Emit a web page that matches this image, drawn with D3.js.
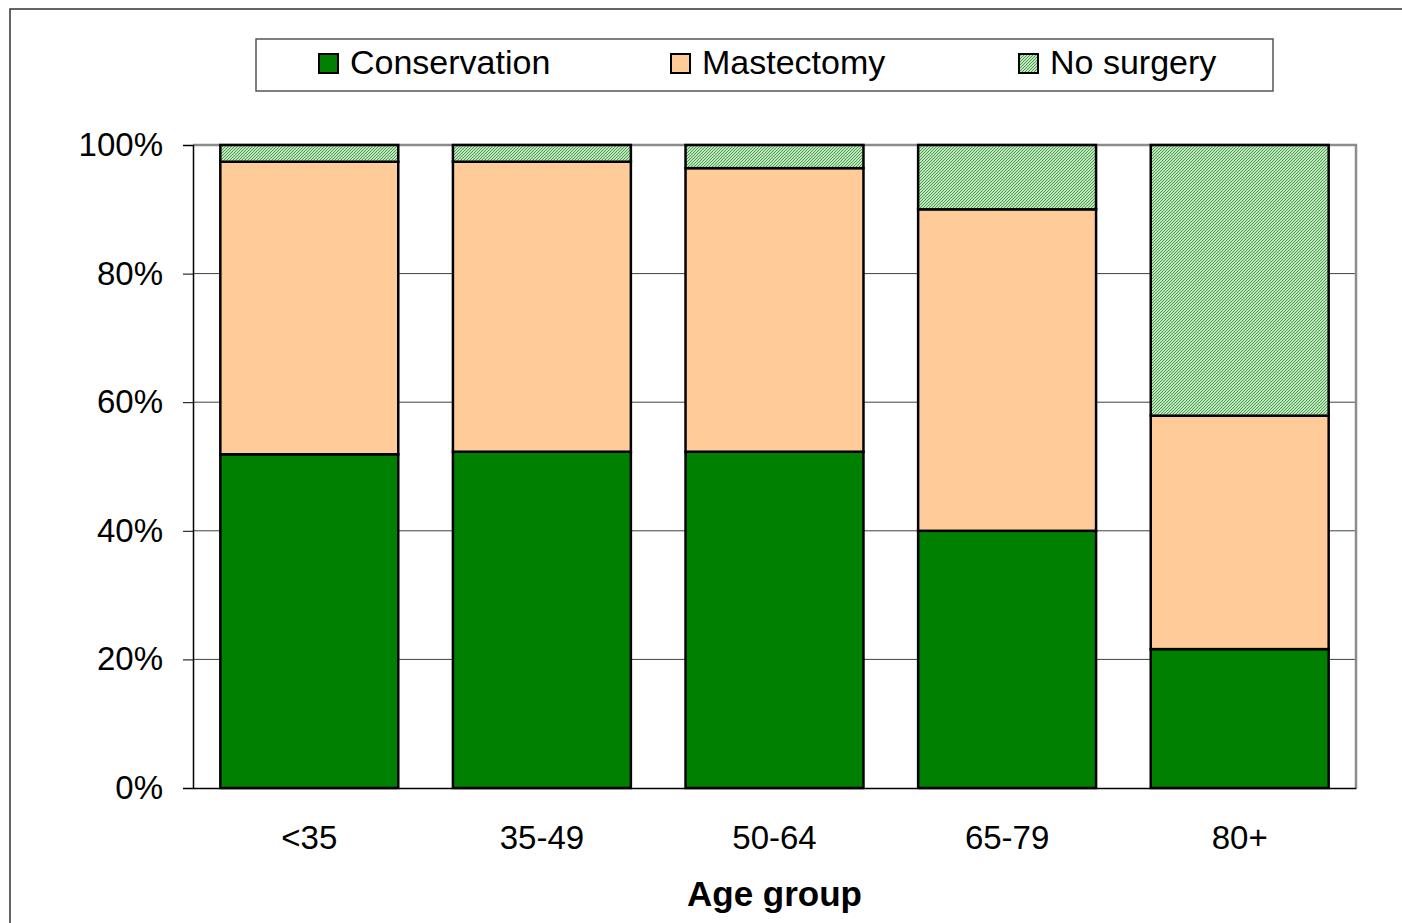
<!DOCTYPE html>
<html>
<head>
<meta charset="utf-8">
<script src="https://cdn.jsdelivr.net/npm/d3@7"></script>
<style>
  body { margin: 0; background: #fff; }
  svg { display: block; font-family: "Liberation Sans", Arial, sans-serif; }
</style>
</head>
<body>
<div id="chart"></div>
<script>
// Data (percent of patients per age group)
const ageGroups = ["<35", "35-49", "50-64", "65-79", "80+"];
const conservation = [51.9, 52.3, 52.3, 40.0, 21.6];
const mastectomy = [45.5, 45.1, 44.1, 50.0, 36.3];
const noSurgery = [2.6, 2.6, 3.6, 10.0, 42.1];
const seriesNames = ["Conservation", "Mastectomy", "No surgery"];
const yTicks = [0, 0.2, 0.4, 0.6, 0.8, 1];

const width = 1402, height = 923;
const plot = { left: 193, right: 1356, top: 145, bottom: 788 };

const data = ageGroups.map((g, i) => ({
  group: g,
  "Conservation": conservation[i],
  "Mastectomy": mastectomy[i],
  "No surgery": noSurgery[i]
}));

const svg = d3.select("#chart")
  .append("svg")
    .attr("width", width)
    .attr("height", height);

// hatch pattern for "No surgery"
const defs = svg.append("defs");
const pat = defs.append("pattern")
    .attr("id", "hatch")
    .attr("patternUnits", "userSpaceOnUse")
    .attr("width", 3)
    .attr("height", 3);
pat.append("rect")
    .attr("width", 3).attr("height", 3)
    .attr("fill", "#ffffff");
pat.append("path")
    .attr("d", "M-1,1 l2,-2 M0,3 l3,-3 M2,4 l2,-2")
    .attr("stroke", "#3fa33f")
    .attr("stroke-width", 1.2);

const colorOf = {
  "Conservation": "#008000",
  "Mastectomy": "#ffcc99",
  "No surgery": "url(#hatch)"
};

// outer chart frame (right and bottom run off the page)
svg.append("rect")
    .attr("x", 10).attr("y", 9)
    .attr("width", 1420).attr("height", 940)
    .attr("fill", "none")
    .attr("stroke", "#333")
    .attr("stroke-width", 1.5);

const xScale = d3.scaleBand()
  .domain(ageGroups)
  .range([plot.left, plot.right])
  .paddingInner(0.235)
  .paddingOuter(0.1175);

const yScale = d3.scaleLinear()
  .domain([0, 1])
  .range([plot.bottom, plot.top]);

// gridlines
svg.append("g")
  .selectAll("line")
  .data(yTicks.filter(d => d > 0 && d < 1))
  .join("line")
    .attr("x1", plot.left).attr("x2", plot.right)
    .attr("y1", d => yScale(d)).attr("y2", d => yScale(d))
    .attr("stroke", "#404040")
    .attr("stroke-width", 1);

// plot area top/right border
svg.append("path")
    .attr("d", `M${plot.left},${plot.top}H${plot.right}V${plot.bottom}`)
    .attr("fill", "none")
    .attr("stroke", "#8c8c8c")
    .attr("stroke-width", 2.5);

const stack = d3.stack()
  .keys(seriesNames)
  .offset(d3.stackOffsetExpand);
const series = stack(data);

series.forEach(serie => {
  svg.append("g")
    .selectAll("rect")
    .data(serie)
    .join("rect")
      .attr("x", d => xScale(d.data.group))
      .attr("y", d => yScale(d[1]))
      .attr("width", xScale.bandwidth())
      .attr("height", d => yScale(d[0]) - yScale(d[1]))
      .attr("fill", colorOf[serie.key])
      .attr("stroke", "#000")
      .attr("stroke-width", 2.5);
});

// y axis
const leftAxis = d3.axisLeft(yScale)
  .tickValues(yTicks)
  .tickFormat(d3.format(".0%"))
  .tickSize(10)
  .tickPadding(20);
const gy = svg.append("g")
    .attr("transform", `translate(${plot.left},0)`)
    .call(leftAxis);
gy.select(".domain").attr("stroke", "#000").attr("stroke-width", 1.5);
gy.selectAll(".tick line").attr("stroke", "#000");
gy.selectAll("text")
    .attr("font-size", 33)
    .attr("fill", "#000")
    .attr("font-family", "'Liberation Sans', Arial, sans-serif");

// x axis
const bottomAxis = d3.axisBottom(xScale)
  .tickSize(0)
  .tickSizeOuter(0)
  .tickPadding(38);
const gx = svg.append("g")
    .attr("transform", `translate(0,${plot.bottom})`)
    .call(bottomAxis);
gx.select(".domain").attr("stroke", "#000").attr("stroke-width", 1.5);
gx.selectAll("text")
    .attr("font-size", 33)
    .attr("fill", "#000")
    .attr("font-family", "'Liberation Sans', Arial, sans-serif");

svg.append("text")
    .attr("x", (plot.left + plot.right) / 2)
    .attr("y", 906)
    .attr("text-anchor", "middle")
    .attr("font-size", 35)
    .attr("font-weight", "bold")
    .text("Age group");

// legend
const legend = svg.append("g");
legend.append("rect")
    .attr("x", 256).attr("y", 39)
    .attr("width", 1017).attr("height", 52)
    .attr("fill", "#fff")
    .attr("stroke", "#555")
    .attr("stroke-width", 1.5);
const legendX = [319, 671, 1019];
const items = legend.selectAll(".item")
  .data(seriesNames)
  .join("g")
    .attr("class", "item")
    .attr("transform", (d, i) => `translate(${legendX[i]},54)`);
items.append("rect")
    .attr("width", 19).attr("height", 19)
    .attr("fill", d => colorOf[d])
    .attr("stroke", "#000")
    .attr("stroke-width", 2);
items.append("text")
    .attr("x", 31)
    .attr("y", 20)
    .attr("font-size", 34)
    .text(d => d);
</script>
</body>
</html>
